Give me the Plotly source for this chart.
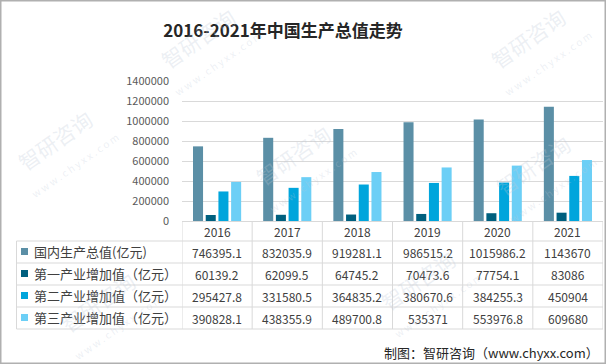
import plotly.graph_objects as go

# ---------------- data ----------------
years = ["2016", "2017", "2018", "2019", "2020", "2021"]
series_names = ["国内生产总值(亿元)", "第一产业增加值（亿元）", "第二产业增加值（亿元）", "第三产业增加值（亿元）"]
gdp = [746395.1, 832035.9, 919281.1, 986515.2, 1015986.2, 1143670]
primary = [60139.2, 62099.5, 64745.2, 70473.6, 77754.1, 83086]
secondary = [295427.8, 331580.5, 364835.2, 380670.6, 384255.3, 450904]
tertiary = [390828.1, 438355.9, 489700.8, 535371, 553976.8, 609680]
y_ticks = [0, 200000, 400000, 600000, 800000, 1000000, 1200000, 1400000]
title_text = "2016-2021年中国生产总值走势"
source_text = "制图：智研咨询（www.chyxx.com）"

series = [gdp, primary, secondary, tertiary]
colors = ["#5B8FA6", "#00607F", "#00A5DC", "#6CCFF6"]

# ---------------- layout geometry ----------------
W, H = 606, 364
L, R, T, B = 182, 3, 81, 143
PW, PH = W - L - R, H - T - B
FONT = "Noto Sans CJK SC"
TXT = "#404040"
GRID = "#D9D9D9"


def px_x(p):
    return (p - L) / PW


def px_y(p):
    return (H - B - p) / PH


def fmt(v):
    s = f"{v:.1f}"
    return s[:-2] if s.endswith(".0") else s


fig = go.Figure()
for name, vals, col in zip(series_names, series, colors):
    fig.add_trace(go.Bar(
        x=years, y=vals, name=name, marker=dict(color=col, line=dict(width=0)),
        showlegend=False, hoverinfo="x+y",
    ))

shapes = []
annotations = []

# table row boundaries (pixels)
row_lines = [241, 263, 285, 307, 329]
row_centers = [(row_lines[i] + row_lines[i + 1]) / 2 for i in range(4)]
header_center = 231.5
table_left = 16.5

# horizontal table lines
for yl in row_lines:
    shapes.append(dict(type="line", xref="paper", yref="paper",
                       x0=px_x(table_left), x1=1, y0=px_y(yl), y1=px_y(yl),
                       line=dict(color=GRID, width=1)))
# left border of table
shapes.append(dict(type="line", xref="paper", yref="paper",
                   x0=px_x(table_left), x1=px_x(table_left),
                   y0=px_y(row_lines[0]), y1=px_y(row_lines[-1]),
                   line=dict(color=GRID, width=1)))
# category dividers
for i in range(len(years) + 1):
    shapes.append(dict(type="line", xref="x", yref="paper",
                       x0=i - 0.5, x1=i - 0.5, y0=0, y1=px_y(row_lines[-1]),
                       line=dict(color=GRID, width=1)))

# year header labels
for i, yr in enumerate(years):
    annotations.append(dict(xref="x", yref="paper", x=i, y=px_y(header_center),
                            text=yr, showarrow=False, xanchor="center", yanchor="middle",
                            font=dict(family=FONT, size=12, color=TXT)))

# row labels, legend keys and values
for r, (name, vals, col) in enumerate(zip(series_names, series, colors)):
    yc = row_centers[r]
    shapes.append(dict(type="rect", xref="paper", yref="paper",
                       x0=px_x(21), x1=px_x(28), y0=px_y(yc - 4), y1=px_y(yc + 3),
                       fillcolor=col, line=dict(width=0)))
    annotations.append(dict(xref="paper", yref="paper", x=px_x(32), y=px_y(yc - 0.5),
                            text=name, showarrow=False, xanchor="left", yanchor="middle",
                            font=dict(family=FONT, size=13, color=TXT)))
    for i, v in enumerate(vals):
        annotations.append(dict(xref="x", yref="paper", x=i, y=px_y(yc),
                                text=fmt(v), showarrow=False, xanchor="center", yanchor="middle",
                                font=dict(family=FONT, size=12, color=TXT)))

# source
annotations.append(dict(xref="paper", yref="paper", x=px_x(601), y=px_y(352),
                        text=source_text, showarrow=False, xanchor="right", yanchor="middle",
                        font=dict(family=FONT, size=13, color="#262626")))

# faint watermarks
wm = [(205, 48), (535, 48), (300, 165), (540, 175), (105, 312), (425, 290), (62, 150)]
for (wx, wy) in wm:
    annotations.append(dict(xref="paper", yref="paper", x=px_x(wx), y=px_y(wy),
                            text="智研咨询<br><span style='font-size:10px'>  w w w . c h y x x . c o m</span>",
                            showarrow=False, xanchor="center", yanchor="middle", textangle=-35,
                            font=dict(family=FONT, size=21, color="rgba(190,200,215,0.28)")))

# outer frame
shapes.append(dict(type="rect", xref="paper", yref="paper",
                   x0=px_x(0.75), x1=px_x(W - 0.75), y0=px_y(0.75), y1=px_y(H - 0.75),
                   line=dict(color="#B0B0B0", width=1.5), fillcolor="rgba(0,0,0,0)"))

fig.update_layout(
    width=W, height=H,
    margin=dict(l=L, r=R, t=T, b=B, pad=0),
    paper_bgcolor="white", plot_bgcolor="white",
    barmode="group", bargap=0.276, bargroupgap=0.21,
    title=dict(text=f"<b>{title_text}</b>", x=283 / W, y=1 - 31 / H,
               xanchor="center", yanchor="middle", xref="container", yref="container",
               font=dict(family=FONT, size=17, color="#262626")),
    xaxis=dict(type="category", range=[-0.5, len(years) - 0.5], showticklabels=False,
               showgrid=False, showline=True, linecolor=GRID, linewidth=1, ticks="",
               fixedrange=True),
    yaxis=dict(range=[0, 1400000], tickvals=y_ticks, ticktext=[str(v) for v in y_ticks],
               showgrid=True, gridcolor=GRID, gridwidth=1, zeroline=False, showline=False,
               ticks="", ticklabelstandoff=12,
               tickfont=dict(family=FONT, size=11, color="#595959"), fixedrange=True),
    shapes=shapes, annotations=annotations,
)

fig.write_html("out.html", config={"displayModeBar": False},
               post_script="document.body.style.margin='0';document.body.style.overflow='hidden';")
